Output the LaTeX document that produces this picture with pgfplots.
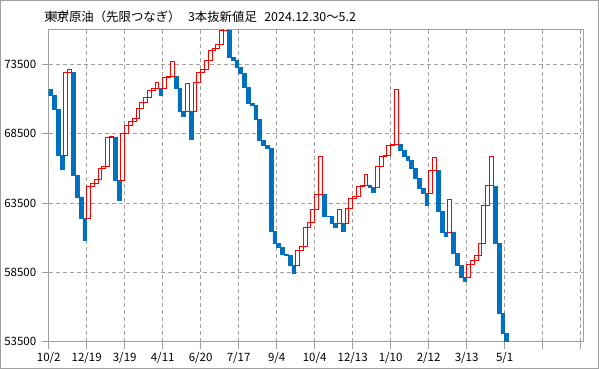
\documentclass[border=0pt]{standalone}
\usepackage{pgfplots}
\pgfplotsset{compat=1.18}
\usepackage{pgfplotstable}
\usepackage{fontspec}
\setmainfont{Noto Sans CJK JP}
\definecolor{cblue}{RGB}{0,112,192}
\definecolor{cred}{RGB}{255,0,0}
\definecolor{cgrid}{RGB}{160,160,160}

\pgfplotstableread{
x lo hi
5 66910 72920
6 72920 73140
11 62400 64700
12 64700 64940
13 64940 65180
14 65180 66000
15 66000 66100
16 66100 68260
17 68260 68310
20 65140 68550
21 68550 69120
22 69120 69360
23 69360 69610
24 69610 70330
25 70330 70760
26 70760 71120
27 71120 71630
28 71630 71770
29 71770 72200
31 71770 72560
32 72560 72610
33 72610 73720
37 70080 72150
39 70080 72200
40 72200 72920
41 72920 73140
42 73140 73810
43 73810 74530
44 74530 74650
45 74650 74940
46 74940 75970
47 75970 76120
66 58990 60060
67 60060 60400
68 60400 61750
69 61750 62080
70 62080 63050
71 63050 64130
72 64130 66840
77 62040 63050
79 62040 63120
80 63120 63840
81 63840 63950
82 63950 64680
83 64680 64800
84 64800 65570
87 64630 66170
88 66170 66890
89 66890 66940
90 66940 67660
91 67660 67730
92 67730 71700
101 64200 65830
102 65830 66800
106 61410 63770
111 58140 59100
112 59100 59390
113 59390 59710
114 59710 60590
115 60590 63330
116 63330 64730
117 64730 66840
}\redtab

\pgfplotstableread{
x lo hi
1 71240 71720
2 70230 71240
3 66910 70230
4 65900 66910
7 65470 72920
8 63950 65470
9 62400 63950
10 60850 62400
18 65140 68260
19 63690 65140
30 71240 71770
34 71770 72610
35 70080 71770
36 69720 70080
38 68090 70080
48 74000 75970
49 73810 74000
50 73270 73810
51 72850 73270
52 71840 72850
53 70690 71840
54 70530 70690
55 69530 70530
56 67990 69530
57 67660 67990
58 67440 67660
59 61430 67440
60 60590 61430
61 60310 60590
62 59770 60310
63 59710 59770
64 58990 59710
65 58470 58990
73 62560 64130
74 62510 62560
75 62040 62510
76 61750 62040
78 61430 62040
85 64630 64800
86 64310 64630
93 67320 67730
94 66890 67320
95 66600 66890
96 66000 66600
97 65280 66000
98 64560 65280
99 64200 64560
100 63330 64200
103 62920 65830
104 61410 62920
105 61070 61410
107 59870 61410
108 59010 59870
109 58140 59010
110 57850 58140
118 60590 64730
119 55550 60590
120 54110 55550
121 53300 54110
}\bluetab

\pgfplotsset{
  chartbase/.style={
    at={(48.7bp,27.3bp)}, anchor=south west,
    scale only axis, width=534.6bp, height=312.4bp,
    xmin=0.5, xmax=141.2, ymin=53500, ymax=76025,
    ybar stacked, bar width=1,
  }
}

\begin{document}
\begin{tikzpicture}
\useasboundingbox (0,0) rectangle (599bp,369bp);
\draw[cgrid, line width=1bp] (0.5bp,0.5bp) rectangle (598.5bp,368.5bp);
\node[anchor=base west, inner sep=0pt, font=\fontsize{12.4bp}{14bp}\selectfont] at (44bp,347.5bp)
  {東京原油（先限つなぎ）\hspace{0.6em}3本抜新値足\hspace{0.6em}2024.12.30～5.2};
\begin{axis}[chartbase,
  axis line style={cgrid, line width=0.8bp},
  xtick={0.5,10.5,20.5,30.5,40.5,50.5,60.5,70.5,80.5,90.5,100.5,110.5,120.5,130.5,140.5},
  xticklabels={10/2,12/19,3/19,4/11,6/20,7/17,9/4,10/4,12/13,1/10,2/12,3/13,5/1,{},{}},
  ytick={53500,58500,63500,68500,73500},
  yticklabels={53500,58500,63500,68500,73500},
  xtick pos=left, ytick pos=left,
  tick align=outside, major tick length=7bp,
  tick style={cgrid, line width=0.8bp},
  grid=major, grid style={cgrid, line width=0.8bp, dash pattern=on 4bp off 3bp},
  tick label style={font=\fontsize{11.5bp}{13bp}\selectfont, text=black},
  yticklabel style={xshift=-2bp},
]
\addplot[draw=none, fill=none] table[x=x, y=lo] \bluetab;
\addplot[draw=cblue, line width=0.5bp, fill=cblue] table[x=x, y expr=\thisrow{hi}-\thisrow{lo}] \bluetab;
\end{axis}
\begin{axis}[chartbase, hide axis]
\addplot[draw=none, fill=none] table[x=x, y=lo] \redtab;
\addplot[draw=cred, fill=white, line width=0.9bp] table[x=x, y expr=\thisrow{hi}-\thisrow{lo}] \redtab;
\end{axis}
\end{tikzpicture}
\end{document}
